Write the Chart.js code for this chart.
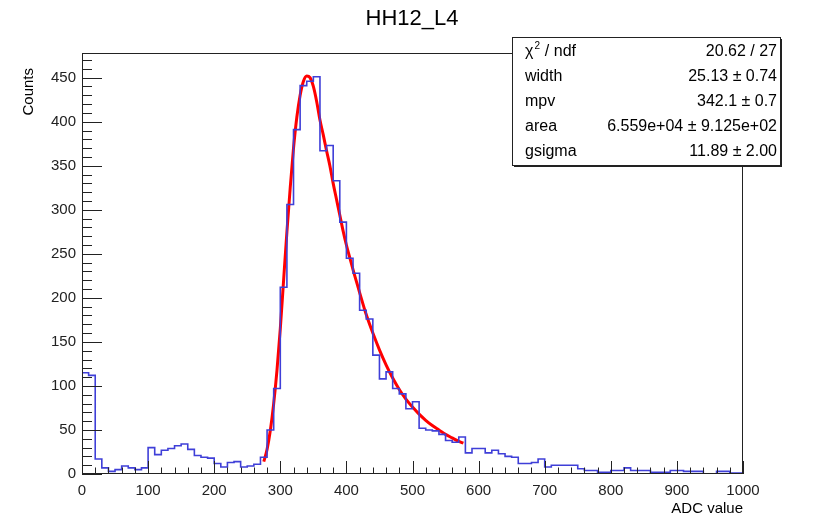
<!DOCTYPE html>
<html>
<head>
<meta charset="utf-8">
<script src="https://cdn.jsdelivr.net/npm/chart.js@4.4.0/dist/chart.umd.min.js"></script>
<style>
html,body{margin:0;padding:0;background:#fff;}
#wrap{width:813px;height:520px;position:relative;}
</style>
</head>
<body>
<div id="wrap"><canvas id="c" width="813" height="520"></canvas></div>
<script>
// ---- data ----
const chartTitle = 'HH12_L4';
const xTitle = 'ADC value';
const yTitle = 'Counts';
// bin lower edges (ADC), 10 ADC per bin
const binLow = [0,10,20,30,40,50,60,70,80,90,100,110,120,130,140,150,160,170,180,190,
  200,210,220,230,240,250,260,270,280,290,300,310,320,330,340,350,360,370,380,390,
  400,410,420,430,440,450,460,470,480,490,500,510,520,530,540,550,560,570,580,590,
  600,610,620,630,640,650,660,670,680,690,700,710,720,730,740,750,760,770,780,790,
  800,810,820,830,840,850,860,870,880,890,900,910,920,930,940,950,960,970,980,990];
const binCounts = [
  115,112,17,7,3,5,9,7,5,7,
  30,22,27,29,32,34,28,21,19,18,
  12,8,13,14,8,9,11,19,50,97,
  212,306,391,441,446,451,367,373,333,286,
  245,228,186,176,135,108,116,97,91,74,
  82,52,50,49,45,38,36,42,24,29,
  29,24,27,23,20,19,12,12,13,17,
  8,10,10,10,10,6,4,4,2,2,
  4,4,7,4,4,4,2,2,2,4,
  4,3,3,3,0,0,3,3,1,1];
const histEnd = 1000;
// fit curve (red)
const fitX = [275,280,285,290,295,300,305,310,315,320,325,330,335,340,345,350,355,360,365,370,375,380,385,390,395,400,405,410,415,420,430,440,450,460,470,480,490,500,510,520,530,540,550,560,570,577];
const fitY = [14,28,50,80,118,165,220,275,325,370,405,430,446,452,450,440,423,402,385,367,350,330,312,294,276,260,246,232,219,206,181,160,141,124,109,96,85,76,68,61,55,50,45,41,37,35];
// axes
const xTicks = [0,100,200,300,400,500,600,700,800,900,1000];
const yTicks = [0,50,100,150,200,250,300,350,400,450];
const xRange = [0,1000];
const yRange = [0,478];
// stats box
const statNames = ['χ2 / ndf','width','mpv','area','gsigma'];
const statValues = ['20.62 / 27','25.13 ± 0.74','342.1 ± 0.7','6.559e+04 ± 9.125e+02','11.89 ± 2.00'];

// ---- build datasets ----
const histPts = [{x: binLow[0], y: 0}];
binLow.forEach((lo, i) => histPts.push({x: lo, y: binCounts[i]}));
histPts.push({x: histEnd, y: binCounts[binCounts.length-1]});
histPts.push({x: histEnd, y: 0});
const fitPts = fitX.map((v, i) => ({x: v, y: fitY[i]}));

const FONT = '"Liberation Sans", Arial, Helvetica, sans-serif';

const rootPlugin = {
  id: 'rootStyle',
  afterDatasetsDraw(chart) {
    const {ctx, chartArea: a, scales: {x, y}} = chart;
    ctx.save();
    ctx.strokeStyle = '#222';
    ctx.lineWidth = 1;
    ctx.beginPath();
    for (let i = 0; i < xTicks.length; i++) {
      const px = Math.round(x.getPixelForValue(xTicks[i])) + 0.5;
      ctx.moveTo(px, a.bottom); ctx.lineTo(px, a.bottom - 13);
      if (i < xTicks.length - 1) {
        for (let k = 1; k < 5; k++) {
          const v = xTicks[i] + (xTicks[i+1] - xTicks[i]) * k / 5;
          const p = Math.round(x.getPixelForValue(v)) + 0.5;
          ctx.moveTo(p, a.bottom); ctx.lineTo(p, a.bottom - 6.5);
        }
      }
    }
    for (let i = 0; i < yTicks.length; i++) {
      const py = Math.round(y.getPixelForValue(yTicks[i])) + 0.5;
      ctx.moveTo(a.left, py); ctx.lineTo(a.left + 20, py);
      const step = (yTicks[1] - yTicks[0]);
      for (let k = 1; k < 5; k++) {
        const v = yTicks[i] + step * k / 5;
        if (v > yRange[1]) break;
        const p = Math.round(y.getPixelForValue(v)) + 0.5;
        ctx.moveTo(a.left, p); ctx.lineTo(a.left + 10, p);
      }
    }
    ctx.stroke();
    ctx.strokeRect(Math.round(a.left) + 0.5, Math.round(a.top) + 0.5,
                   Math.round(a.right - a.left) - 1, Math.round(a.bottom - a.top) - 1);
    ctx.restore();
  },
  afterDraw(chart) {
    const {ctx, chartArea: a} = chart;
    ctx.save();
    ctx.fillStyle = '#000';
    ctx.font = '22px ' + FONT;
    ctx.textAlign = 'center'; ctx.textBaseline = 'middle';
    ctx.fillText(chartTitle, 412, 19);
    ctx.font = '15px ' + FONT;
    ctx.textAlign = 'right';
    ctx.fillText(xTitle, a.right, 509);
    ctx.save();
    ctx.translate(29, a.top);
    ctx.rotate(-Math.PI / 2);
    ctx.textAlign = 'right';
    ctx.fillText(yTitle, -15, 0);
    ctx.restore();
    const bx = 512, by = 37, bw = 268, bh = 128;
    ctx.fillStyle = '#fff';
    ctx.fillRect(bx, by, bw, bh);
    ctx.fillStyle = '#222';
    ctx.fillRect(bx + 2, by + bh, bw, 2);
    ctx.fillRect(bx + bw, by + 2, 2, bh);
    ctx.strokeStyle = '#222'; ctx.lineWidth = 1;
    ctx.strokeRect(bx + 0.5, by + 0.5, bw, bh);
    ctx.fillStyle = '#000';
    ctx.font = '16px ' + FONT;
    ctx.textBaseline = 'middle';
    const rowH = 24.8;
    for (let i = 0; i < statNames.length; i++) {
      const cy = by + 15 + i * rowH;
      ctx.textAlign = 'left';
      if (statNames[i].startsWith('χ2')) {
        ctx.fillText('χ', bx + 13, cy);
        const w = ctx.measureText('χ').width;
        ctx.font = '10px ' + FONT;
        ctx.fillText('2', bx + 13 + w + 1, cy - 6);
        ctx.font = '16px ' + FONT;
        ctx.fillText(' / ndf', bx + 13 + w + 7, cy);
      } else {
        ctx.fillText(statNames[i], bx + 13, cy);
      }
      ctx.textAlign = 'right';
      ctx.fillText(statValues[i], bx + bw - 3, cy);
    }
    ctx.restore();
  }
};

new Chart(document.getElementById('c'), {
  type: 'line',
  data: {
    datasets: [
      {
        label: 'hist',
        data: histPts,
        stepped: 'before',
        borderColor: '#3f3fd8',
        borderWidth: 1.6,
        pointRadius: 0,
        fill: false
      },
      {
        label: 'fit',
        data: fitPts,
        borderColor: '#ff0000',
        borderWidth: 3,
        pointRadius: 0,
        cubicInterpolationMode: 'monotone',
        fill: false
      }
    ]
  },
  options: {
    responsive: false,
    animation: false,
    devicePixelRatio: 1,
    layout: { padding: { left: 0, top: 53, right: 70, bottom: 0 } },
    plugins: { legend: { display: false }, tooltip: { enabled: false }, title: { display: false } },
    scales: {
      x: {
        type: 'linear',
        min: xRange[0], max: xRange[1],
        afterFit: s => { s.height = 46; },
        afterBuildTicks: s => { s.ticks = xTicks.map(v => ({value: v})); },
        grid: { display: false, drawTicks: false },
        border: { display: false },
        ticks: { color: '#222', font: { family: FONT, size: 15 }, padding: 8, maxRotation: 0, autoSkip: false,
                 callback: v => String(v) }
      },
      y: {
        type: 'linear',
        min: yRange[0], max: yRange[1],
        afterFit: s => { s.width = 82; },
        afterBuildTicks: s => { s.ticks = yTicks.map(v => ({value: v})); },
        grid: { display: false, drawTicks: false },
        border: { display: false },
        ticks: { color: '#222', font: { family: FONT, size: 15 }, padding: 6, autoSkip: false,
                 callback: v => String(v) }
      }
    }
  },
  plugins: [rootPlugin]
});
</script>
</body>
</html>
